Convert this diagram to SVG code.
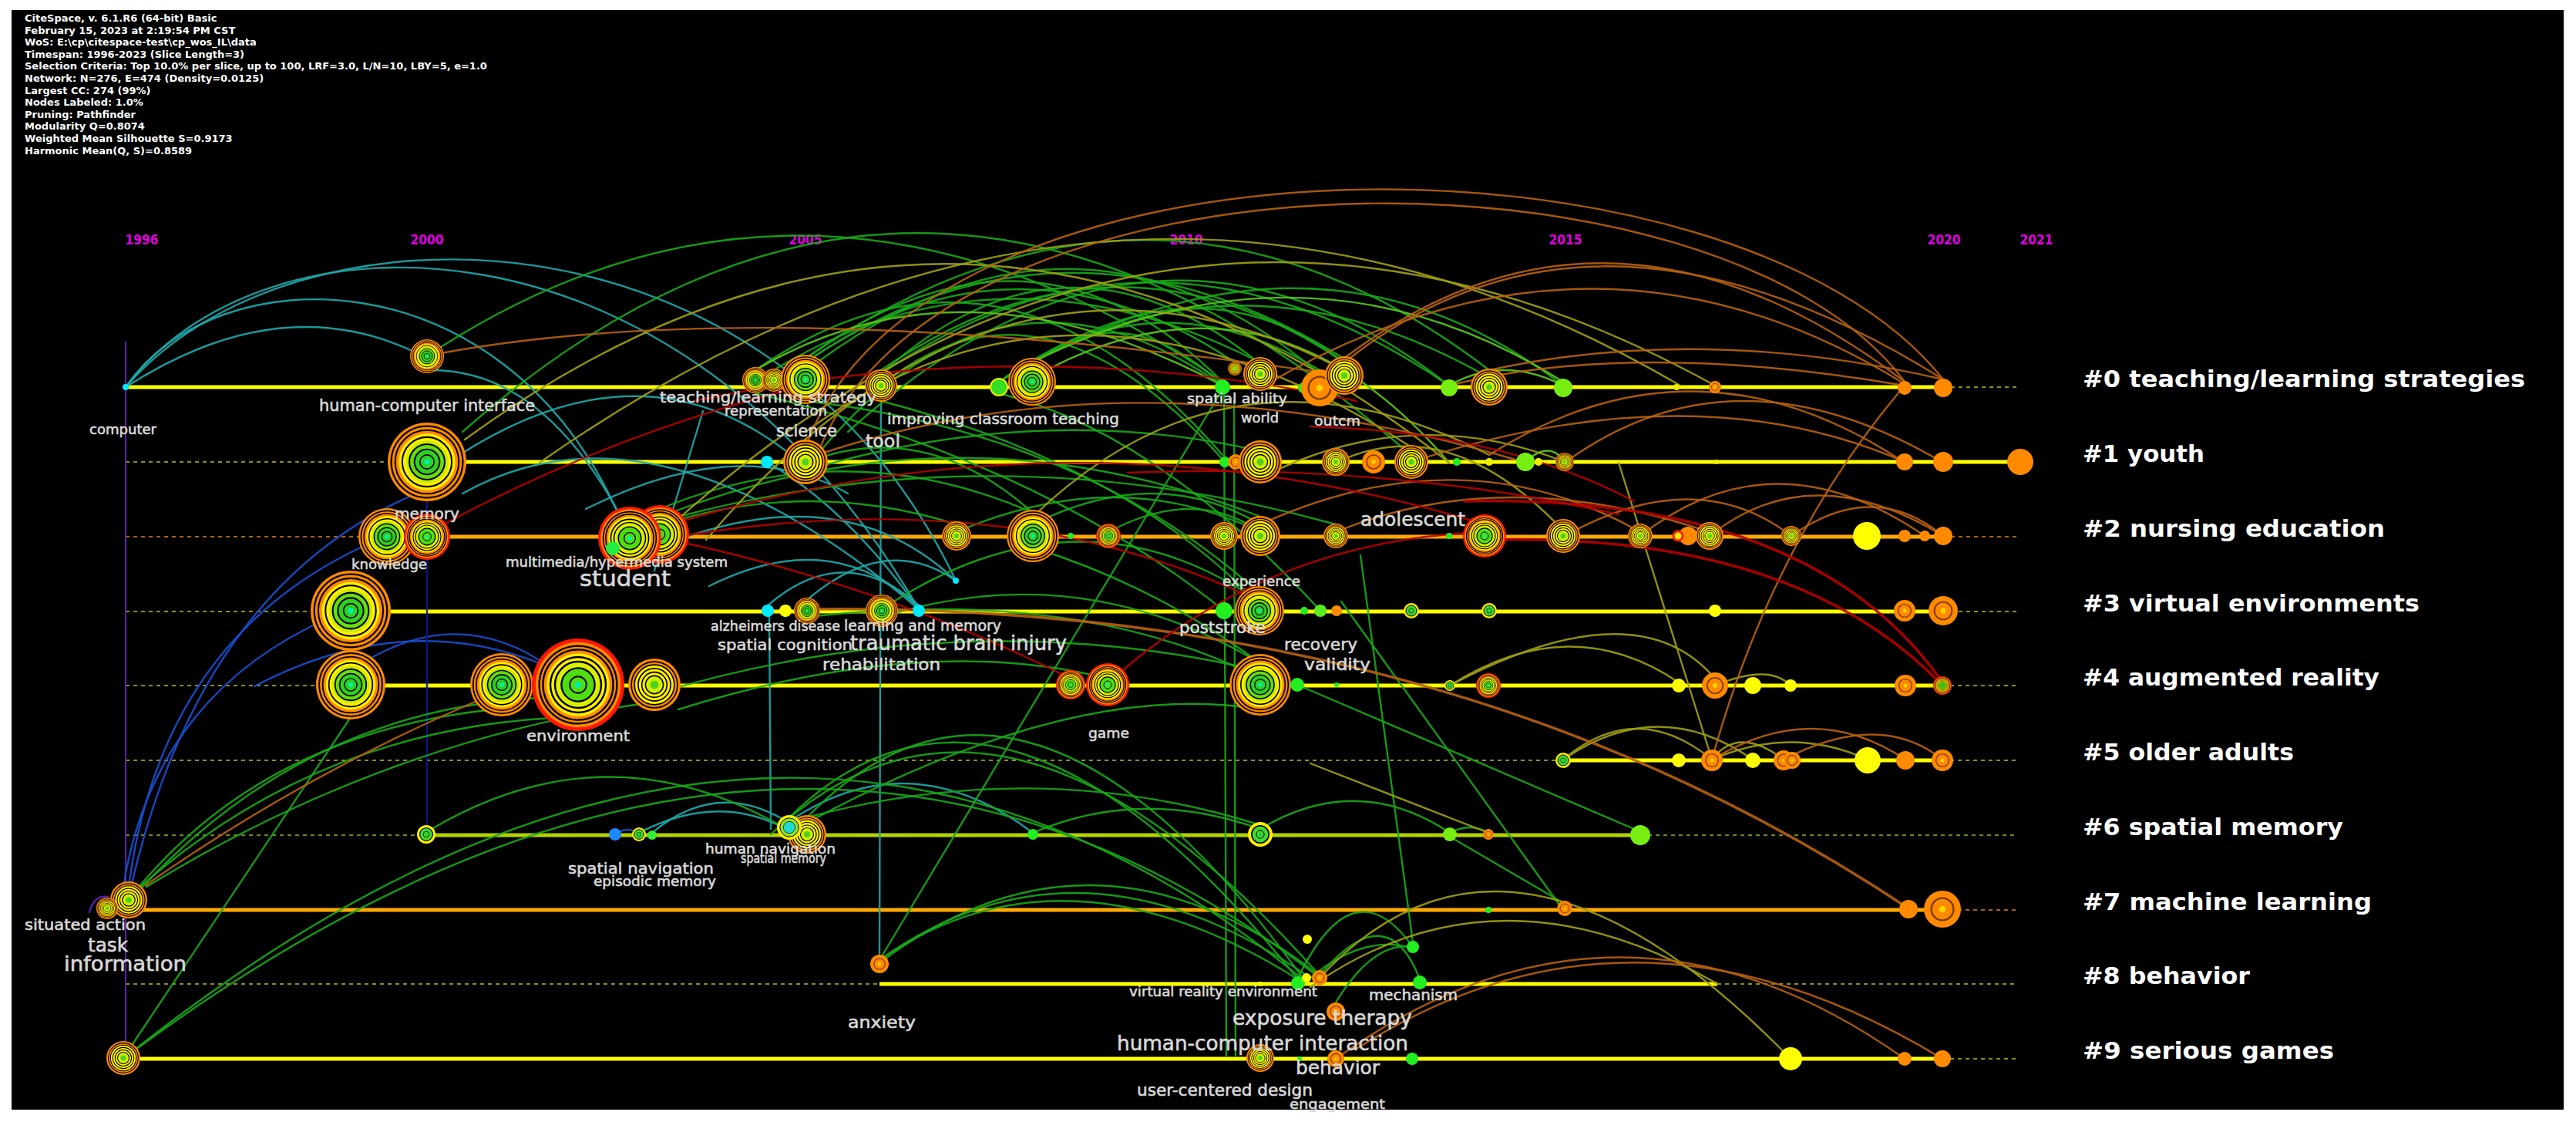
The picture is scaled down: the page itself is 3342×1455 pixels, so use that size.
<svg xmlns="http://www.w3.org/2000/svg" width="3342" height="1455" viewBox="0 0 3342 1455">
<style>
.hd{font-family:"DejaVu Sans","Liberation Sans",sans-serif;font-weight:bold;font-size:13px;fill:#ffffff}
.yr{font-family:"DejaVu Sans","Liberation Sans",sans-serif;font-weight:bold;font-size:18px;fill:#e000e0}
.cl{font-family:"DejaVu Sans","Liberation Sans",sans-serif;font-weight:bold;font-size:31px;fill:#ffffff}
.lb{font-family:"DejaVu Sans","Liberation Sans",sans-serif;fill:#d8d8d8;stroke:#d8d8d8;stroke-width:0.6}
.sy{stroke:#ffff00;stroke-width:5;fill:none}
.so{stroke:#ffaa00;stroke-width:5;fill:none}
.sg{stroke:#b4d200;stroke-width:5;fill:none}
.dy{stroke:#8f8f14;stroke-width:2;stroke-dasharray:5 5;fill:none}
.do{stroke:#a8601a;stroke-width:2;stroke-dasharray:5 5;fill:none}
.dg{stroke:#6e8c14;stroke-width:2;stroke-dasharray:5 5;fill:none}
#links path{fill:none;stroke-width:2.4;stroke-linecap:round;opacity:.9}
#links .t{stroke:#1fa8aa}
#links .b{stroke:#1a4fd0}
#links .db{stroke:#0a1a90}
#links .p{stroke:#6020c0}
#links .g{stroke:#18a818}
#links .lg{stroke:#5cc81a}
#links .o{stroke:#a0a014}
#links .br{stroke:#b8620f}
#links .r{stroke:#b80000}
#links .w{stroke-width:3.5}
</style>
<defs>
<symbol id="nA" viewBox="-50 -50 100 100">
<circle r="50" fill="#ff8a00"/>
<circle r="45.5" fill="none" stroke="#000" stroke-width="2.2"/>
<circle r="40.5" fill="none" stroke="#000" stroke-width="2"/>
<circle r="36" fill="#ffee00"/>
<circle r="31.5" fill="none" stroke="#000" stroke-width="2"/>
<circle r="27" fill="#c8ec00"/>
<circle r="22.5" fill="#66dd10" stroke="#000" stroke-width="2"/>
<circle r="16" fill="#30d020" stroke="#000" stroke-width="2"/>
<circle r="9" fill="none" stroke="#000" stroke-width="1.6"/>
<circle r="3.5" fill="#00f0b0"/>
</symbol>
<symbol id="nR" viewBox="-50 -50 100 100">
<circle r="50" fill="#ff1800"/>
<circle r="46" fill="#ff8a00"/>
<circle r="42" fill="none" stroke="#000" stroke-width="2"/>
<circle r="38" fill="none" stroke="#000" stroke-width="2"/>
<circle r="34" fill="#ffee00"/>
<circle r="30" fill="none" stroke="#000" stroke-width="2"/>
<circle r="25" fill="#d8f000" stroke="#000" stroke-width="2"/>
<circle r="18" fill="#50dd10" stroke="#000" stroke-width="2"/>
<circle r="9" fill="none" stroke="#000" stroke-width="1.6"/>
<circle r="3.5" fill="#00f0b0"/>
</symbol>
<symbol id="nY" viewBox="-50 -50 100 100">
<circle r="50" fill="#ff8a00"/>
<circle r="44" fill="none" stroke="#000" stroke-width="2.4"/>
<circle r="38" fill="#ffee00" stroke="#000" stroke-width="2.4"/>
<circle r="31" fill="none" stroke="#000" stroke-width="2.4"/>
<circle r="24" fill="none" stroke="#000" stroke-width="2.4"/>
<circle r="17" fill="#d0f000" stroke="#000" stroke-width="2.4"/>
<circle r="8" fill="#50d020"/>
</symbol>
<symbol id="nO" viewBox="-50 -50 100 100">
<circle r="50" fill="#ff8a00"/>
<circle r="30" fill="none" stroke="#7a3a00" stroke-width="5"/>
<circle r="9" fill="#ffd400"/>
</symbol>
<symbol id="nG" viewBox="-50 -50 100 100">
<circle r="50" fill="#ffee00"/>
<circle r="35" fill="#40d830" stroke="#000" stroke-width="5"/>
<circle r="16" fill="none" stroke="#000" stroke-width="3"/>
<circle r="5" fill="#00c060"/>
</symbol>
<symbol id="nC" viewBox="-50 -50 100 100">
<circle r="50" fill="#ffee00"/>
<circle r="38" fill="#90e020" stroke="#000" stroke-width="3"/>
<circle r="24" fill="#20d8d0" stroke="#000" stroke-width="2"/>
</symbol>
</defs>
<rect x="0" y="0" width="3342" height="1455" fill="#ffffff"/>
<rect x="15" y="13" width="3311" height="1426" fill="#000000"/>
<g id="header">
<text class="hd" x="32" y="28">CiteSpace, v. 6.1.R6 (64-bit) Basic</text>
<text class="hd" x="32" y="43.6">February 15, 2023 at 2:19:54 PM CST</text>
<text class="hd" x="32" y="59.2">WoS: E:\cp\citespace-test\cp_wos_IL\data</text>
<text class="hd" x="32" y="74.8">Timespan: 1996-2023 (Slice Length=3)</text>
<text class="hd" x="32" y="90.4">Selection Criteria: Top 10.0% per slice, up to 100, LRF=3.0, L/N=10, LBY=5, e=1.0</text>
<text class="hd" x="32" y="106">Network: N=276, E=474 (Density=0.0125)</text>
<text class="hd" x="32" y="121.6">Largest CC: 274 (99%)</text>
<text class="hd" x="32" y="137.2">Nodes Labeled: 1.0%</text>
<text class="hd" x="32" y="152.8">Pruning: Pathfinder</text>
<text class="hd" x="32" y="168.4">Modularity Q=0.8074</text>
<text class="hd" x="32" y="184">Weighted Mean Silhouette S=0.9173</text>
<text class="hd" x="32" y="199.6">Harmonic Mean(Q, S)=0.8589</text>
</g>
<g id="years">
<text class="yr" x="184" y="317" text-anchor="middle" textLength="43" lengthAdjust="spacingAndGlyphs">1996</text>
<text class="yr" x="554" y="317" text-anchor="middle" textLength="43" lengthAdjust="spacingAndGlyphs">2000</text>
<text class="yr" x="1045" y="317" text-anchor="middle" textLength="43" lengthAdjust="spacingAndGlyphs">2005</text>
<text class="yr" x="1539" y="317" text-anchor="middle" textLength="43" lengthAdjust="spacingAndGlyphs">2010</text>
<text class="yr" x="2031" y="317" text-anchor="middle" textLength="43" lengthAdjust="spacingAndGlyphs">2015</text>
<text class="yr" x="2522" y="317" text-anchor="middle" textLength="43" lengthAdjust="spacingAndGlyphs">2020</text>
<text class="yr" x="2642" y="317" text-anchor="middle" textLength="43" lengthAdjust="spacingAndGlyphs">2021</text>
</g>
<g id="timelines">
<path class="dy" d="M2521 502H2617"/>
<path class="dy" d="M163 599H554"/>
<path class="do" d="M163 696H502M2521 696H2617"/>
<path class="dy" d="M163 793H455M2521 793H2617"/>
<path class="dy" d="M163 889H455M2520 889H2617"/>
<path class="dy" d="M163 986H2028M2520 986H2617"/>
<path class="dg" d="M163 1083H553M2128 1083H2617"/>
<path class="do" d="M2520 1180H2617"/>
<path class="dy" d="M163 1276H1141M2228 1276H2617"/>
<path class="dy" d="M2520 1373H2617"/>
<path class="sy" d="M163 502H2521"/>
<path class="sy" d="M554 599H2621"/>
<path class="so" d="M502 696H2521"/>
<path class="sy" d="M455 793H2521"/>
<path class="sy" d="M455 889H2520"/>
<path class="sy" d="M2028 986H2520"/>
<path class="sg" d="M553 1083H2128"/>
<path class="so" d="M150 1180H2520"/>
<path class="sy" d="M1141 1276H2228"/>
<path class="sy" d="M160 1373H2520"/>
<path d="M163 443V1373" stroke="#5a20b0" stroke-width="2" fill="none"/>
</g>
<g id="links">
<path class="t" d="M163 502C380 250 1000 250 1240 753"/>
<path class="t" d="M163 502C340 265 880 255 1192 790"/>
<path class="t" d="M163 502C280 330 650 330 800 662"/>
<path class="t" d="M163 502Q360 375 535 455"/>
<path class="t" d="M596 590Q830 440 1020 585"/>
<path class="t" d="M560 480Q700 480 800 660"/>
<path class="t" d="M880 700Q1100 620 1240 753"/>
<path class="t" d="M996 785Q1095 700 1192 785"/>
<path class="t" d="M1047 778Q1150 690 1240 753"/>
<path class="t" d="M920 760Q1080 680 1192 788"/>
<path class="t" d="M1024 1065Q1180 960 1340 1080"/>
<path class="t" d="M846 1080Q930 1010 1020 1065"/>
<path class="t" d="M829 1080Q925 1030 1010 1070"/>
<path class="t" d="M1143 502L1141 1240"/>
<path class="t" d="M998 800L1000 1075"/>
<path class="t" d="M995 599Q1100 660 1192 790"/>
<path class="t" d="M912 533L849 740"/>
<path class="t" d="M600 640Q850 500 1192 790"/>
<path class="t" d="M760 660Q960 560 1100 640"/>
<path class="b" d="M167 1150Q210 820 490 700"/>
<path class="b" d="M160 1150Q200 900 430 800"/>
<path class="b" d="M170 1150Q260 760 540 640"/>
<path class="b" d="M330 890Q520 790 700 860"/>
<path class="b" d="M470 860Q600 780 720 870"/>
<path class="b" d="M798 1082Q815 1070 829 1082"/>
<path class="db" d="M554 640L554 1074"/>
<path class="p" d="M116 1183Q122 1160 140 1163"/>
<path class="g" d="M572 450Q1060 140 1586 495"/>
<path class="g" d="M1045 465Q1340 250 1586 495"/>
<path class="g" d="M1143 485Q1380 270 1630 468"/>
<path class="g" d="M1060 470Q1400 220 1712 485"/>
<path class="g" d="M1100 560Q1500 200 1880 500"/>
<path class="g" d="M1296 495Q1700 250 2028 500"/>
<path class="g" d="M980 480Q1300 260 1586 590"/>
<path class="g" d="M1060 590Q1300 300 1586 500"/>
<path class="g" d="M1339 470Q1460 380 1586 500"/>
<path class="g" d="M1143 500Q1350 330 1589 599"/>
<path class="g" d="M1296 495Q1600 300 1932 490"/>
<path class="g" d="M600 560Q1200 30 1830 590"/>
<path class="g" d="M1004 480Q1300 300 1635 470"/>
<path class="g" d="M1045 470Q1320 280 1602 470"/>
<path class="g" d="M1045 470Q1380 240 1744 465"/>
<path class="g" d="M1143 480Q1450 270 1744 470"/>
<path class="g" d="M1339 470Q1560 330 1744 470"/>
<path class="g" d="M1143 485Q1500 240 1880 500"/>
<path class="g" d="M1045 465Q1500 150 1932 480"/>
<path class="g" d="M1296 495Q1500 350 1712 480"/>
<path class="g" d="M1045 520Q1400 560 1635 770"/>
<path class="g" d="M1143 520Q1450 600 1620 770"/>
<path class="g" d="M1296 510Q1500 560 1713 792"/>
<path class="g" d="M980 510Q1350 600 1588 792"/>
<path class="g" d="M856 660Q1100 560 1340 665"/>
<path class="g" d="M870 665Q1250 520 1635 670"/>
<path class="g" d="M880 670Q1300 560 1733 680"/>
<path class="g" d="M860 680Q1050 620 1241 680"/>
<path class="g" d="M1045 600Q1200 540 1340 665"/>
<path class="g" d="M1045 610Q1350 520 1635 585"/>
<path class="g" d="M1047 1060Q1330 770 1690 1268"/>
<path class="g" d="M1024 1060Q1300 790 1684 1270"/>
<path class="g" d="M1000 1082Q1300 800 1712 1265"/>
<path class="g" d="M160 1373Q1000 700 1690 1270"/>
<path class="g" d="M160 1373Q1020 730 1712 1268"/>
<path class="g" d="M168 1360L455 930"/>
<path class="g" d="M182 1148Q350 950 640 920"/>
<path class="g" d="M185 1150Q400 920 700 905"/>
<path class="g" d="M182 1150Q420 940 740 930"/>
<path class="g" d="M190 1150Q500 960 849 910"/>
<path class="g" d="M560 1075Q790 940 1020 1075"/>
<path class="g" d="M1635 1075Q1760 1000 1881 1080"/>
<path class="g" d="M1881 1080Q1907 1066 1931 1080"/>
<path class="g" d="M1881 1085L2030 1172"/>
<path class="g" d="M1683 888L2120 1075"/>
<path class="g" d="M1740 780L2022 1172"/>
<path class="g" d="M1588 500L1591 1370"/>
<path class="g" d="M1601 520L1603 1370"/>
<path class="g" d="M1765 720L1833 1222"/>
<path class="g" d="M1586 505L1141 1245"/>
<path class="g" d="M1684 1268Q1756 1120 1833 1228"/>
<path class="g" d="M1712 1265Q1800 1160 1842 1270"/>
<path class="g" d="M1141 1245Q1380 1080 1684 1270"/>
<path class="g" d="M1141 1245Q1400 1060 1700 1268"/>
<path class="g" d="M1142 1248Q1420 1040 1712 1265"/>
<path class="g" d="M1730 1305Q1780 1220 1833 1228"/>
<path class="g" d="M1700 1268Q1770 1210 1833 1230"/>
<path class="g" d="M1144 790Q1400 620 1634 780"/>
<path class="g" d="M1241 690Q1450 600 1635 690"/>
<path class="g" d="M1340 680Q1500 600 1635 680"/>
<path class="g" d="M1438 690Q1550 630 1635 690"/>
<path class="g" d="M880 920Q1200 820 1437 880"/>
<path class="g" d="M849 900Q1250 780 1635 870"/>
<path class="g" d="M1060 1060Q1400 880 1635 920"/>
<path class="g" d="M1144 800Q1400 720 1635 860"/>
<path class="g" d="M1047 800Q1400 760 1635 880"/>
<path class="g" d="M1340 710Q1500 760 1635 860"/>
<path class="g" d="M1047 1060Q1350 980 1635 1070"/>
<path class="g" d="M1340 1080Q1480 1020 1635 1075"/>
<path class="lg" d="M1339 490Q1640 320 1880 600"/>
<path class="lg" d="M1880 500Q1950 460 2028 500"/>
<path class="lg" d="M1979 599Q2010 570 2030 599"/>
<path class="lg" d="M980 480Q1250 320 1586 500"/>
<path class="lg" d="M1339 470Q1700 290 2028 495"/>
<path class="o" d="M700 600Q1450 75 2180 500"/>
<path class="o" d="M850 700Q1500 100 2225 500"/>
<path class="o" d="M603 570Q1250 100 1880 600"/>
<path class="o" d="M916 700Q1300 250 1744 480"/>
<path class="o" d="M1045 560Q1400 300 1831 580"/>
<path class="o" d="M1340 670Q1600 420 1932 590"/>
<path class="o" d="M1881 889Q2123 760 2225 880"/>
<path class="o" d="M1881 889Q2037 790 2178 885"/>
<path class="o" d="M2225 889Q2295 860 2323 889"/>
<path class="o" d="M2028 985Q2123 905 2221 985"/>
<path class="o" d="M2028 985Q2152 900 2274 985"/>
<path class="o" d="M2221 985Q2255 940 2314 985"/>
<path class="o" d="M2221 985Q2324 940 2423 985"/>
<path class="o" d="M1712 1268Q1960 1000 2323 1373"/>
<path class="o" d="M1700 1280Q1942 1110 2228 1276"/>
<path class="o" d="M2100 600L2221 985"/>
<path class="o" d="M1700 990L1931 1080"/>
<path class="o" d="M1635 620Q1830 520 2030 599"/>
<path class="o" d="M1733 600Q1880 530 2030 690"/>
<path class="br" d="M1045 580C1200 150 2250 150 2521 492"/>
<path class="br" d="M1060 590C1220 175 2230 170 2471 495"/>
<path class="br" d="M1712 490Q2070 190 2471 495"/>
<path class="br" d="M1744 470Q2070 210 2521 492"/>
<path class="br" d="M1640 500Q2070 250 2471 498"/>
<path class="br" d="M1932 480Q2208 420 2521 492"/>
<path class="br" d="M1880 500Q2120 440 2471 500"/>
<path class="br" d="M572 458Q1000 380 1744 487"/>
<path class="br" d="M1060 590Q1480 450 1980 600"/>
<path class="br" d="M2030 600Q2250 440 2521 600"/>
<path class="br" d="M1932 590Q2200 420 2471 600"/>
<path class="br" d="M2128 695Q2300 560 2497 695"/>
<path class="br" d="M2218 695Q2350 590 2521 695"/>
<path class="br" d="M2030 695Q2200 600 2324 695"/>
<path class="br" d="M2324 695Q2430 620 2521 695"/>
<path class="br" d="M2221 985Q2300 700 2471 500"/>
<path class="br" d="M2221 985Q2353 905 2472 985"/>
<path class="br" d="M2314 985Q2439 920 2520 985"/>
<path class="br" d="M1733 1373Q2100 1110 2471 1373"/>
<path class="br" d="M1760 1360Q2120 1130 2520 1373"/>
<path class="br w" d="M1047 790Q1880 780 2476 1178"/>
<path class="br" d="M189 1148Q400 1000 640 900"/>
<path class="br" d="M1635 680Q1900 560 2128 690"/>
<path class="br" d="M1733 690Q1950 600 2218 690"/>
<path class="br" d="M1831 599Q2200 480 2471 599"/>
<path class="r" d="M870 700Q1150 760 1389 880"/>
<path class="r" d="M1450 875Q1650 700 1926 690"/>
<path class="r" d="M870 680Q1400 520 1926 680"/>
<path class="r" d="M900 520Q1330 430 1760 520"/>
<path class="r" d="M1700 553Q1950 560 2120 650"/>
<path class="r w" d="M1900 650Q2350 640 2520 885"/>
<path class="r w" d="M1930 700Q2330 690 2520 889"/>
<path class="r" d="M575 680Q800 560 1045 500"/>
<path class="r" d="M1463 613Q1800 600 2100 667"/>
<path class="r" d="M856 700Q1300 620 1635 780"/>
</g>
<g id="nodes">
<g id="n-computer"><circle cx="163" cy="502" r="4" fill="#00e8ff"/><text class="lb" x="116" y="563" font-size="17" textLength="87" lengthAdjust="spacingAndGlyphs">computer</text></g>
<g id="n-hci-interface"><use href="#nA" x="532" y="440" width="44" height="44"/><text class="lb" x="414" y="533" font-size="21" textLength="280" lengthAdjust="spacingAndGlyphs">human-computer interface</text></g>
<g id="n0c"><use href="#nA" x="963" y="476" width="34" height="34"/></g>
<g id="n-representation"><use href="#nY" x="989" y="478" width="30" height="30"/></g>
<g id="n-teaching"><use href="#nA" x="1013" y="460" width="64" height="64"/></g>
<g id="n-tool"><use href="#nY" x="1122" y="479" width="42" height="42"/></g>
<g id="n0g"><circle cx="1296" cy="502" r="11" fill="#33dd22" stroke="#eeee00" stroke-width="2"/></g>
<g id="n-improving"><use href="#nA" x="1308" y="464" width="62" height="62"/></g>
<g id="n-spatial-ability"><circle cx="1586" cy="502" r="10" fill="#22ee22"/></g>
<g id="n0j"><use href="#nY" x="1593" y="469" width="18" height="18"/></g>
<g id="n-world"><use href="#nY" x="1613" y="463" width="44" height="44"/></g>
<g id="n0l"><circle cx="1691" cy="503" r="7" fill="#22ee22"/></g>
<g id="n-outcm"><use href="#nO" x="1688" y="479" width="48" height="48"/></g>
<g id="n0n"><use href="#nY" x="1719" y="462" width="50" height="50"/></g>
<g id="n0o"><circle cx="1880" cy="503" r="11" fill="#77ee11"/></g>
<g id="n0p"><use href="#nY" x="1908" y="478" width="48" height="48"/></g>
<g id="n0q"><circle cx="2028" cy="503" r="12" fill="#77ee11"/></g>
<g id="n0r"><circle cx="2175" cy="502" r="4" fill="#eeee00"/></g>
<g id="n0s"><use href="#nO" x="2217" y="494" width="16" height="16"/></g>
<g id="n0t"><circle cx="2471" cy="503" r="9" fill="#ff8a00"/></g>
<g id="n0u"><circle cx="2521" cy="503" r="12" fill="#ff8a00"/></g>
<g id="n-memory"><use href="#nA" x="503" y="548" width="102" height="102"/></g>
<g id="n1b"><circle cx="995" cy="599" r="8" fill="#00e8ff"/></g>
<g id="n-science"><use href="#nY" x="1016" y="570" width="58" height="58"/></g>
<g id="n1d"><circle cx="1589" cy="599" r="7" fill="#22ee22"/></g>
<g id="n1e"><use href="#nO" x="1593" y="589" width="20" height="20"/></g>
<g id="n1f"><use href="#nY" x="1607" y="571" width="56" height="56"/></g>
<g id="n1g"><use href="#nY" x="1715" y="581" width="36" height="36"/></g>
<g id="n1h"><use href="#nO" x="1767" y="584" width="30" height="30"/></g>
<g id="n1i"><use href="#nY" x="1809" y="577" width="44" height="44"/></g>
<g id="n1j"><circle cx="1890" cy="599" r="5" fill="#22ee22"/><circle cx="1932" cy="599" r="5" fill="#eeee00"/></g>
<g id="n1l"><circle cx="1979" cy="599" r="12" fill="#77ee11"/><circle cx="1996" cy="599" r="5" fill="#eeee00"/></g>
<g id="n1n"><use href="#nY" x="2018" y="587" width="24" height="24"/></g>
<g id="n1o"><circle cx="2227" cy="599" r="3" fill="#eeee00"/></g>
<g id="n1p"><circle cx="2471" cy="599" r="11" fill="#ff8a00"/></g>
<g id="n1q"><circle cx="2521" cy="599" r="13" fill="#ff8a00"/></g>
<g id="n1r"><circle cx="2621" cy="599" r="17" fill="#ff8a00"/></g>
<g id="n-knowledge"><use href="#nA" x="465" y="659" width="74" height="74"/></g>
<g id="n2b"><use href="#nR" x="524" y="666" width="60" height="60"/></g>
<g id="n-student"><use href="#nR" x="818" y="655" width="76" height="76"/></g>
<g id="n-multimedia"><use href="#nR" x="776" y="657" width="82" height="82"/><circle cx="795" cy="711" r="9" fill="#22ee44"/></g>
<g id="n2f"><use href="#nY" x="1222" y="676" width="38" height="38"/></g>
<g id="n2g"><use href="#nA" x="1306" y="661" width="68" height="68"/></g>
<g id="n2h"><circle cx="1389" cy="695" r="4" fill="#22ee22"/></g>
<g id="n2i"><use href="#nR" x="1422" y="679" width="32" height="32"/></g>
<g id="n2j"><use href="#nY" x="1570" y="677" width="36" height="36"/></g>
<g id="n-experience"><use href="#nY" x="1609" y="669" width="52" height="52"/></g>
<g id="n2l"><use href="#nY" x="1717" y="679" width="32" height="32"/></g>
<g id="n2m"><circle cx="1880" cy="695" r="4" fill="#22ee22"/></g>
<g id="n-adolescent"><use href="#nR" x="1898" y="667" width="56" height="56"/></g>
<g id="n2o"><use href="#nY" x="2006" y="673" width="44" height="44"/></g>
<g id="n2p"><use href="#nY" x="2112" y="679" width="32" height="32"/></g>
<g id="n2q"><circle cx="2190" cy="695" r="12" fill="#ff8a00"/><circle cx="2177" cy="695" r="6" fill="#ffee00" stroke="#ff2000" stroke-width="3"/></g>
<g id="n2s"><use href="#nY" x="2200" y="677" width="36" height="36"/></g>
<g id="n2t"><use href="#nY" x="2311" y="682" width="26" height="26"/></g>
<g id="n2u"><circle cx="2422" cy="695" r="18" fill="#ffff00"/></g>
<g id="n2v"><circle cx="2471" cy="695" r="8" fill="#ff8a00"/><circle cx="2497" cy="695" r="7" fill="#ff8a00"/></g>
<g id="n2x"><circle cx="2521" cy="695" r="12" fill="#ff8a00"/></g>
<g id="n3a"><use href="#nA" x="403" y="740" width="104" height="104"/></g>
<g id="n-alzheimers"><circle cx="996" cy="792" r="8" fill="#00e8ff"/></g>
<g id="n-spatial-cognition"><circle cx="1019" cy="792" r="8" fill="#ffff00"/></g>
<g id="n3d"><use href="#nA" x="1030" y="775" width="34" height="34"/></g>
<g id="n-traumatic"><use href="#nA" x="1123" y="771" width="42" height="42"/></g>
<g id="n-learning-memory"><circle cx="1192" cy="792" r="8" fill="#00e8ff"/><circle cx="1240" cy="753" r="4" fill="#00e8ff"/></g>
<g id="n-poststroke"><circle cx="1588" cy="792" r="11" fill="#22ee22"/></g>
<g id="n3i"><use href="#nA" x="1602" y="760" width="64" height="64"/></g>
<g id="n-recovery"><circle cx="1692" cy="792" r="5" fill="#22ee22"/><circle cx="1713" cy="792" r="8" fill="#55ee22"/><circle cx="1734" cy="792" r="7" fill="#ff8a00"/></g>
<g id="n3k"><use href="#nG" x="1821" y="782" width="20" height="20"/></g>
<g id="n3l"><use href="#nG" x="1922" y="782" width="20" height="20"/></g>
<g id="n3m"><circle cx="2225" cy="792" r="8" fill="#ffff00"/></g>
<g id="n3n"><use href="#nO" x="2457" y="778" width="28" height="28"/></g>
<g id="n3o"><use href="#nO" x="2502" y="773" width="38" height="38"/></g>
<g id="n4a"><use href="#nA" x="410" y="843" width="90" height="90"/></g>
<g id="n4b"><use href="#nA" x="610" y="847" width="82" height="82"/></g>
<g id="n-environment"><use href="#nR" x="690" y="828" width="120" height="120"/></g>
<g id="n4d"><use href="#nY" x="815" y="854" width="68" height="68"/></g>
<g id="n4e"><use href="#nR" x="1370" y="869" width="38" height="38"/></g>
<g id="n-game"><use href="#nR" x="1409" y="860" width="56" height="56"/></g>
<g id="n-validity"><use href="#nA" x="1595" y="848" width="80" height="80"/><circle cx="1683" cy="888" r="9" fill="#22ee22"/><circle cx="1734" cy="888" r="3" fill="#22ee22"/></g>
<g id="n4j"><use href="#nG" x="1874" y="882" width="14" height="14"/></g>
<g id="n4k"><use href="#nR" x="1915" y="873" width="32" height="32"/></g>
<g id="n4l"><circle cx="2178" cy="889" r="9" fill="#ffff00"/></g>
<g id="n4m"><use href="#nO" x="2208" y="872" width="34" height="34"/></g>
<g id="n4n"><circle cx="2274" cy="889" r="11" fill="#ffff00"/><circle cx="2323" cy="889" r="8" fill="#ffff00"/></g>
<g id="n4p"><use href="#nO" x="2458" y="875" width="28" height="28"/></g>
<g id="n4q"><use href="#nR" x="2508" y="877" width="24" height="24"/></g>
<g id="n5a"><use href="#nG" x="2018" y="976" width="20" height="20"/></g>
<g id="n5b"><circle cx="2178" cy="986" r="9" fill="#ffff00"/></g>
<g id="n5c"><use href="#nO" x="2207" y="972" width="28" height="28"/></g>
<g id="n5d"><circle cx="2274" cy="986" r="10" fill="#ffff00"/></g>
<g id="n5e"><use href="#nO" x="2301" y="973" width="26" height="26"/><use href="#nO" x="2314" y="975" width="22" height="22"/></g>
<g id="n5f"><circle cx="2423" cy="986" r="17" fill="#ffff00"/></g>
<g id="n5g"><circle cx="2472" cy="986" r="12" fill="#ff8a00"/></g>
<g id="n5h"><use href="#nO" x="2506" y="972" width="28" height="28"/></g>
<g id="n6a"><use href="#nG" x="541" y="1070" width="24" height="24"/></g>
<g id="n-spatial-navigation"><circle cx="798" cy="1082" r="8" fill="#1e88ff"/><use href="#nG" x="820" y="1073" width="18" height="18"/></g>
<g id="n-episodic"><circle cx="846" cy="1083" r="6" fill="#33ee33"/></g>
<g id="n-spatial-memory"><use href="#nY" x="1022" y="1057" width="50" height="50"/></g>
<g id="n-human-navigation"><use href="#nC" x="1008" y="1057" width="32" height="32"/></g>
<g id="n6g"><circle cx="1340" cy="1082" r="7" fill="#22ee22"/></g>
<g id="n6h"><use href="#nG" x="1619" y="1066" width="32" height="32"/></g>
<g id="n6i"><circle cx="1881" cy="1082" r="9" fill="#77ee11"/></g>
<g id="n6j"><use href="#nO" x="1924" y="1075" width="14" height="14"/></g>
<g id="n6k"><circle cx="2128" cy="1083" r="13" fill="#77ee11"/></g>
<g id="n-task"><use href="#nY" x="143" y="1143" width="48" height="48"/></g>
<g id="n-situated-action"><use href="#nY" x="125" y="1164" width="28" height="28"/></g>
<g id="n7c"><circle cx="1931" cy="1180" r="4" fill="#22ee22"/></g>
<g id="n7d"><use href="#nO" x="2020" y="1168" width="20" height="20"/></g>
<g id="n7e"><circle cx="2476" cy="1179" r="12" fill="#ff8a00"/></g>
<g id="n7f"><use href="#nO" x="2496" y="1155" width="48" height="48"/></g>
<g id="n-anxiety"><use href="#nO" x="1129" y="1238" width="24" height="24"/></g>
<g id="n8b"><circle cx="1696" cy="1218" r="6" fill="#ffff00"/></g>
<g id="n-vr-environment"><circle cx="1684" cy="1275" r="9" fill="#22ee22"/><circle cx="1695" cy="1268" r="6" fill="#ffff00"/><use href="#nO" x="1702" y="1258" width="20" height="20"/><circle cx="1635" cy="1276" r="3" fill="#ffff00"/></g>
<g id="n8f"><circle cx="1833" cy="1228" r="8" fill="#22ee22"/></g>
<g id="n-mechanism"><circle cx="1842" cy="1274" r="9" fill="#22ee22"/></g>
<g id="n-exposure"><use href="#nO" x="1721" y="1300" width="24" height="24"/></g>
<g id="n-information"><use href="#nY" x="138" y="1350" width="44" height="44"/></g>
<g id="n-hci-interaction"><use href="#nY" x="1617" y="1354" width="36" height="36"/><circle cx="1686" cy="1373" r="3" fill="#22ee22"/></g>
<g id="n-behavior"><use href="#nO" x="1722" y="1362" width="22" height="22"/></g>
<g id="n9e"><circle cx="1832" cy="1373" r="8" fill="#22ee22"/></g>
<g id="n9f"><circle cx="2323" cy="1373" r="15" fill="#ffff00"/></g>
<g id="n9g"><circle cx="2471" cy="1373" r="9" fill="#ff8a00"/><circle cx="2520" cy="1373" r="11" fill="#ff8a00"/></g>
</g>
<g id="labels">
<text class="lb" x="856" y="522" font-size="20" textLength="281" lengthAdjust="spacingAndGlyphs">teaching/learning strategy</text>
<text class="lb" x="940" y="539" font-size="17" textLength="133" lengthAdjust="spacingAndGlyphs">representation</text>
<text class="lb" x="1007" y="566" font-size="21" textLength="79" lengthAdjust="spacingAndGlyphs">science</text>
<text class="lb" x="1123" y="580" font-size="23" textLength="45" lengthAdjust="spacingAndGlyphs">tool</text>
<text class="lb" x="1151" y="550" font-size="19" textLength="301" lengthAdjust="spacingAndGlyphs">improving classroom teaching</text>
<text class="lb" x="1540" y="523" font-size="17" textLength="130" lengthAdjust="spacingAndGlyphs">spatial ability</text>
<text class="lb" x="1610" y="548" font-size="17" textLength="49" lengthAdjust="spacingAndGlyphs">world</text>
<text class="lb" x="1705" y="552" font-size="18" textLength="60" lengthAdjust="spacingAndGlyphs">outcm</text>
<text class="lb" x="512" y="673" font-size="20" textLength="84" lengthAdjust="spacingAndGlyphs">memory</text>
<text class="lb" x="456" y="738" font-size="18" textLength="98" lengthAdjust="spacingAndGlyphs">knowledge</text>
<text class="lb" x="656" y="735" font-size="18" textLength="288" lengthAdjust="spacingAndGlyphs">multimedia/hypermedia system</text>
<text class="lb" x="752" y="760" font-size="28" textLength="118" lengthAdjust="spacingAndGlyphs">student</text>
<text class="lb" x="1765" y="682" font-size="25" textLength="136" lengthAdjust="spacingAndGlyphs">adolescent</text>
<text class="lb" x="1586" y="760" font-size="17" textLength="101" lengthAdjust="spacingAndGlyphs">experience</text>
<text class="lb" x="922" y="818" font-size="18" textLength="168" lengthAdjust="spacingAndGlyphs">alzheimers disease</text>
<text class="lb" x="1095" y="818" font-size="19" textLength="204" lengthAdjust="spacingAndGlyphs">learning and memory</text>
<text class="lb" x="931" y="843" font-size="20" textLength="175" lengthAdjust="spacingAndGlyphs">spatial cognition</text>
<text class="lb" x="1103" y="843" font-size="26" textLength="281" lengthAdjust="spacingAndGlyphs">traumatic brain injury</text>
<text class="lb" x="1067" y="869" font-size="22" textLength="153" lengthAdjust="spacingAndGlyphs">rehabilitation</text>
<text class="lb" x="1530" y="821" font-size="21" textLength="112" lengthAdjust="spacingAndGlyphs">poststroke</text>
<text class="lb" x="1666" y="843" font-size="21" textLength="95" lengthAdjust="spacingAndGlyphs">recovery</text>
<text class="lb" x="1692" y="869" font-size="22" textLength="86" lengthAdjust="spacingAndGlyphs">validity</text>
<text class="lb" x="683" y="961" font-size="20" textLength="134" lengthAdjust="spacingAndGlyphs">environment</text>
<text class="lb" x="1412" y="957" font-size="18" textLength="53" lengthAdjust="spacingAndGlyphs">game</text>
<text class="lb" x="915" y="1107" font-size="17" textLength="169" lengthAdjust="spacingAndGlyphs">human navigation</text>
<text class="lb" x="961" y="1119" font-size="17" textLength="111" lengthAdjust="spacingAndGlyphs">spatial memory</text>
<text class="lb" x="737" y="1133" font-size="20" textLength="189" lengthAdjust="spacingAndGlyphs">spatial navigation</text>
<text class="lb" x="770" y="1149" font-size="17" textLength="159" lengthAdjust="spacingAndGlyphs">episodic memory</text>
<text class="lb" x="32" y="1206" font-size="19" textLength="157" lengthAdjust="spacingAndGlyphs">situated action</text>
<text class="lb" x="114" y="1234" font-size="25" textLength="52" lengthAdjust="spacingAndGlyphs">task</text>
<text class="lb" x="83" y="1259" font-size="27" textLength="159" lengthAdjust="spacingAndGlyphs">information</text>
<text class="lb" x="1100" y="1333" font-size="22" textLength="88" lengthAdjust="spacingAndGlyphs">anxiety</text>
<text class="lb" x="1465" y="1292" font-size="17" textLength="244" lengthAdjust="spacingAndGlyphs">virtual reality environment</text>
<text class="lb" x="1776" y="1297" font-size="19" textLength="115" lengthAdjust="spacingAndGlyphs">mechanism</text>
<text class="lb" x="1599" y="1329" font-size="26" textLength="233" lengthAdjust="spacingAndGlyphs">exposure therapy</text>
<text class="lb" x="1449" y="1362" font-size="26" textLength="378" lengthAdjust="spacingAndGlyphs">human-computer interaction</text>
<text class="lb" x="1681" y="1393" font-size="24" textLength="109" lengthAdjust="spacingAndGlyphs">behavior</text>
<text class="lb" x="1475" y="1421" font-size="21" textLength="228" lengthAdjust="spacingAndGlyphs">user-centered design</text>
<text class="lb" x="1673" y="1438" font-size="18" textLength="124" lengthAdjust="spacingAndGlyphs">engagement</text>
</g>
<g id="clusters">
<text class="cl" x="2702" y="502" textLength="574" lengthAdjust="spacingAndGlyphs">#0 teaching/learning strategies</text>
<text class="cl" x="2702" y="599" textLength="158" lengthAdjust="spacingAndGlyphs">#1 youth</text>
<text class="cl" x="2702" y="696" textLength="392" lengthAdjust="spacingAndGlyphs">#2 nursing education</text>
<text class="cl" x="2702" y="793" textLength="437" lengthAdjust="spacingAndGlyphs">#3 virtual environments</text>
<text class="cl" x="2702" y="889" textLength="385" lengthAdjust="spacingAndGlyphs">#4 augmented reality</text>
<text class="cl" x="2702" y="986" textLength="274" lengthAdjust="spacingAndGlyphs">#5 older adults</text>
<text class="cl" x="2702" y="1083" textLength="338" lengthAdjust="spacingAndGlyphs">#6 spatial memory</text>
<text class="cl" x="2702" y="1180" textLength="375" lengthAdjust="spacingAndGlyphs">#7 machine learning</text>
<text class="cl" x="2702" y="1276" textLength="217" lengthAdjust="spacingAndGlyphs">#8 behavior</text>
<text class="cl" x="2702" y="1373" textLength="326" lengthAdjust="spacingAndGlyphs">#9 serious games</text>
</g>
</svg>
